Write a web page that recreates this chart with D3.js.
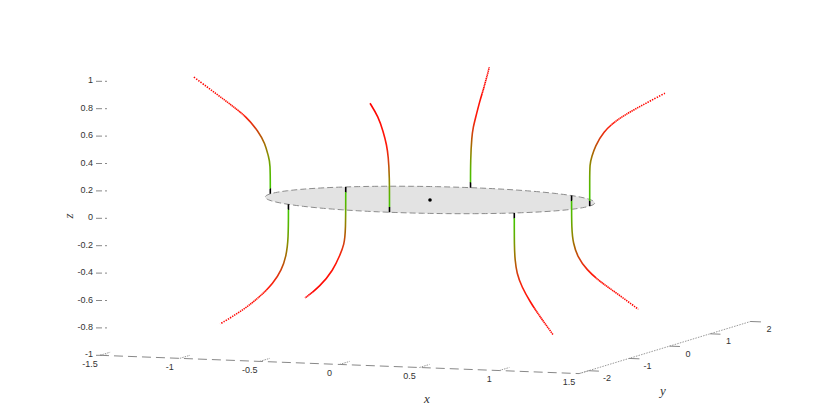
<!DOCTYPE html>
<html>
<head>
<meta charset="utf-8">
<title>field lines</title>
<script src="https://d3js.org/d3.v7.min.js"></script>
<style>
  body { margin: 0; background: #fff; }
  svg { display: block; }
  .tick { font-family: "Liberation Sans", Arial, sans-serif; font-size: 9px; fill: #333; }
  .lab { font-family: "Liberation Serif", serif; font-style: italic; font-size: 13px; fill: #333; }
</style>
</head>
<body>
<svg id="chart" width="830" height="417"></svg>
<script>
// axis limits and ticks
var xLim = [-1.5, 1.5], yLim = [-2.233, 2.04], zLim = [-1, 1];
var xTicks = [-1.5, -1, -0.5, 0, 0.5, 1, 1.5];
var xTickLabels = ["-1.5", "-1", "-0.5", "0", "0.5", "1", "1.5"];
var yTicks = [-2, -1, 0, 1, 2];
var yTickLabels = ["-2", "-1", "0", "1", "2"];
var zTicks = [-1, -0.8, -0.6, -0.4, -0.2, 0, 0.2, 0.4, 0.6, 0.8, 1];
var zTickLabels = ["-1", "-0.8", "-0.6", "-0.4", "-0.2", "0", "0.2", "0.4", "0.6", "0.8", "1"];

// disk
var diskRadius = 1, diskZ = 0;

// field lines: azimuth (deg) of each line, then (rho, z) along it
var lineAngles = [180, 270, 90, 0, 225, 135, 315, 45];
var lineRho = [
  [1, 1, 1.012, 1.033, 1.075, 1.148, 1.273, 1.482],
  [1, 1, 1.03, 1.069, 1.153, 1.277, 1.481],
  [1, 1, 1.03, 1.07, 1.111, 1.235, 1.317, 1.464],
  [1, 1, 1, 1.013, 1.033, 1.085, 1.169, 1.273, 1.471],
  [1, 1, 1.017, 1.048, 1.107, 1.201, 1.319, 1.483],
  [1, 1, 1.02, 1.068, 1.147, 1.305, 1.483],
  [1, 1, 1.009, 1.029, 1.088, 1.187, 1.305, 1.463],
  [1, 1, 1.012, 1.041, 1.107, 1.201, 1.319, 1.472]
];
var lineZ = [
  [0, 0.23, 0.271, 0.368, 0.451, 0.557, 0.661, 0.834],
  [0, 0.272, 0.409, 0.497, 0.602, 0.723, 0.839],
  [0, 0.202, 0.369, 0.439, 0.484, 0.619, 0.685, 0.837],
  [0, 0.17, 0.31, 0.361, 0.435, 0.547, 0.636, 0.714, 0.845],
  [0, -0.26, -0.381, -0.477, -0.573, -0.667, -0.761, -0.858],
  [0, -0.328, -0.425, -0.503, -0.62, -0.756, -0.856],
  [0, -0.25, -0.342, -0.437, -0.53, -0.63, -0.728, -0.847],
  [0, -0.251, -0.348, -0.447, -0.546, -0.635, -0.723, -0.845]
];

// colour along a line (fraction of its length); the black tip is in pixels
var blackTip = 5;
var colorStops = [[0.06, "#46c400"], [0.17, "#5fb000"], [0.27, "#8c8a00"], [0.36, "#aa6400"],
                  [0.46, "#d83c10"], [0.58, "#ff1a0a"], [1, "#ff0000"]];

var svg = d3.select("#chart");
var defs = svg.append("defs");

// the 3-d box: corner (xmin,ymin,zmin) and the screen vectors of the three edges
var C = [100, 355.3], X = [479.1, 18.3], Y = [173.1, -52.6], Z = [0, -274];
var fx = d3.scaleLinear().domain(xLim).range([0, 1]);
var fy = d3.scaleLinear().domain(yLim).range([0, 1]);
var fz = d3.scaleLinear().domain(zLim).range([0, 1]);
function proj(x, y, z) {
  var a = fx(x), b = fy(y), c = fz(z);
  return [C[0] + a * X[0] + b * Y[0] + c * Z[0], C[1] + a * X[1] + b * Y[1] + c * Z[1]];
}

var ax = svg.append("g");

// x axis
var x0 = proj(xLim[0], yLim[0], zLim[0]), x1 = proj(xLim[1], yLim[0], zLim[0]);
ax.append("line").attr("x1", x0[0]).attr("y1", x0[1]).attr("x2", x1[0]).attr("y2", x1[1])
  .attr("stroke", "#888").attr("stroke-dasharray", "9,5");
xTicks.forEach(function(t, i) {
  var p = proj(t, yLim[0], zLim[0]), q = proj(t, yLim[0] + 0.25, zLim[0]);
  ax.append("line").attr("x1", p[0]).attr("y1", p[1]).attr("x2", q[0]).attr("y2", q[1])
    .attr("stroke", "#999").attr("stroke-dasharray", "1.5,1");
  ax.append("text").attr("class", "tick").attr("x", p[0] - 10).attr("y", p[1] + 8.5)
    .attr("text-anchor", "middle").attr("dominant-baseline", "central").text(xTickLabels[i]);
});

// y axis
var y0 = proj(xLim[1], yLim[0], zLim[0]), y1 = proj(xLim[1], yLim[1], zLim[0]);
ax.append("line").attr("x1", y0[0]).attr("y1", y0[1]).attr("x2", y1[0]).attr("y2", y1[1])
  .attr("stroke", "#999").attr("stroke-dasharray", "1.5,1.2");
yTicks.forEach(function(t, i) {
  var p = proj(xLim[1], t, zLim[0]), q = proj(xLim[1] + 0.065, t, zLim[0]);
  ax.append("line").attr("x1", p[0]).attr("y1", p[1]).attr("x2", q[0]).attr("y2", q[1])
    .attr("stroke", "#888");
  ax.append("text").attr("class", "tick").attr("x", p[0] + 18.5).attr("y", p[1] + 7.5)
    .attr("text-anchor", "middle").attr("dominant-baseline", "central").text(yTickLabels[i]);
});

// z axis (ticks only)
zTicks.forEach(function(t, i) {
  var p = proj(xLim[0], yLim[0], t);
  ax.append("line").attr("x1", p[0] - 4).attr("y1", p[1]).attr("x2", p[0] + 7).attr("y2", p[1])
    .attr("stroke", "#888").attr("stroke-dasharray", "6,3");
  ax.append("text").attr("class", "tick").attr("x", p[0] - 7).attr("y", p[1] - 1)
    .attr("text-anchor", "end").attr("dominant-baseline", "central").text(zTickLabels[i]);
});

// axis titles
ax.append("text").attr("class", "lab").attr("x", 427).attr("y", 398)
  .attr("text-anchor", "middle").attr("dominant-baseline", "central").text("x");
ax.append("text").attr("class", "lab").attr("x", 663).attr("y", 390)
  .attr("text-anchor", "middle").attr("dominant-baseline", "central").text("y");
ax.append("text").attr("class", "lab").attr("transform", "translate(68,216) rotate(-90)")
  .attr("text-anchor", "middle").attr("dominant-baseline", "central").text("z");

// disk
var diskPts = d3.range(0, 360, 2).map(function(d) {
  var a = d * Math.PI / 180;
  return proj(diskRadius * Math.cos(a), diskRadius * Math.sin(a), diskZ);
});
svg.append("path").attr("d", d3.line().curve(d3.curveLinearClosed)(diskPts))
  .attr("fill", "#e3e3e3").attr("stroke", "#8c8c8c").attr("stroke-dasharray", "6,3");
var c0 = proj(0, 0, diskZ);
svg.append("circle").attr("cx", c0[0]).attr("cy", c0[1]).attr("r", 1.8).attr("fill", "#000");

// field lines
var line = d3.line().curve(d3.curveBasis);
lineAngles.forEach(function(phi, i) {
  var a = phi * Math.PI / 180;
  var p3 = lineRho[i].map(function(r, k) { return [r * Math.cos(a), r * Math.sin(a), lineZ[i][k]]; });
  var pts = p3.map(function(p) { return proj(p[0], p[1], p[2]); });
  var path = svg.append("path").attr("d", line(pts)).attr("fill", "none")
    .attr("stroke-width", 1.6).attr("stroke-linecap", "butt");
  var node = path.node(), L = node.getTotalLength();

  // gradient from first to last point
  var s = pts[0], e = pts[pts.length - 1];
  var vx = e[0] - s[0], vy = e[1] - s[1], vv = vx * vx + vy * vy;
  var grad = defs.append("linearGradient").attr("id", "grad" + i)
    .attr("gradientUnits", "userSpaceOnUse")
    .attr("x1", s[0]).attr("y1", s[1]).attr("x2", e[0]).attr("y2", e[1]);
  var stops = [[0, "#000"], [blackTip / L, "#000"], [(blackTip + 0.5) / L, "#46c400"]].concat(colorStops);
  var last = 0;
  stops.forEach(function(cs) {
    var q = node.getPointAtLength(cs[0] * L);
    var t = ((q.x - s[0]) * vx + (q.y - s[1]) * vy) / vv;
    t = Math.max(last, Math.min(1, t));
    last = t;
    grad.append("stop").attr("offset", t).attr("stop-color", cs[1]);
  });
  path.attr("stroke", "url(#grad" + i + ")");

  // marker spacing grows along the line; scaled by how stretched the line is on screen
  var n = pts.length;
  var d3len = Math.hypot(p3[n - 1][0] - p3[n - 2][0], p3[n - 1][1] - p3[n - 2][1], p3[n - 1][2] - p3[n - 2][2]);
  var stretch = Math.hypot(pts[n - 1][0] - pts[n - 2][0], pts[n - 1][1] - pts[n - 2][1]) / d3len;
  var dot = 1.4, dash = [], run = 0, pos = 0;
  while (pos < L) {
    var u = pos / L;
    var sp = stretch * (0.004 + 0.0155 * Math.pow(u, 1.5));
    var gap = sp - dot;
    if (gap < 0.2) { run += Math.max(sp, dot); pos += Math.max(sp, dot); }
    else { dash.push(run + dot, gap); run = 0; pos += sp; }
  }
  if (run > 0) dash.push(run, 0);
  path.attr("stroke-dasharray", dash.map(function(v) { return v.toFixed(2); }).join(","));
});
</script>
</body>
</html>
